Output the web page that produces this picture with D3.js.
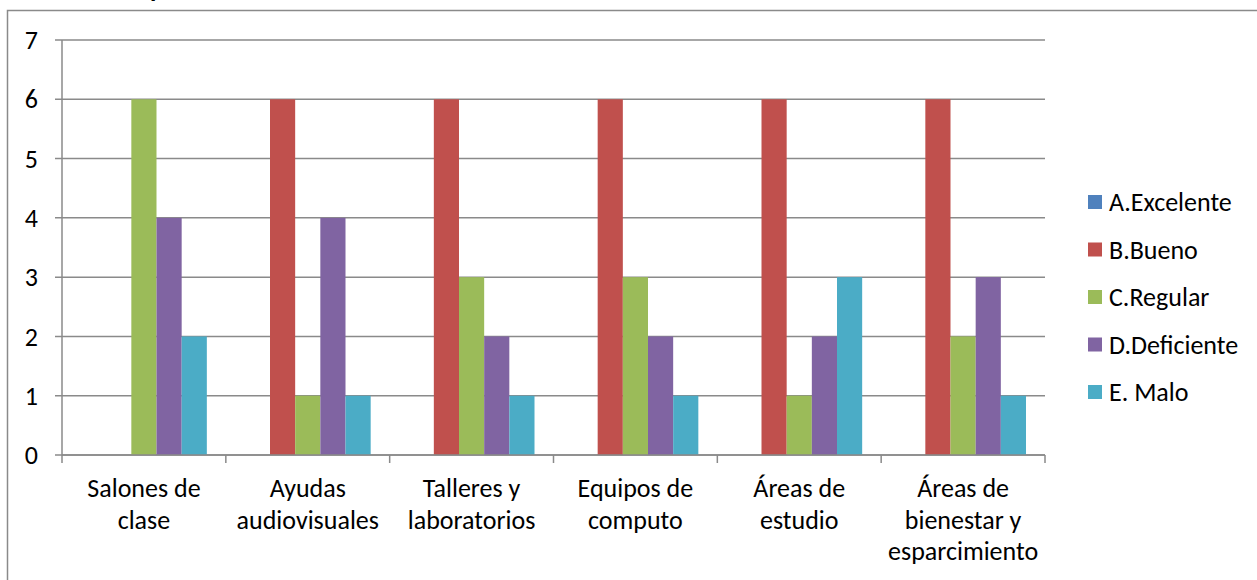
<!DOCTYPE html>
<html><head><meta charset="utf-8">
<script src="https://cdn.jsdelivr.net/npm/d3@7"></script>
<style>body{margin:0;background:#fff;overflow:hidden}text{font-family:Carlito,Lato,sans-serif;fill:#000}</style>
</head><body>
<svg id="c" width="1257" height="580"></svg>
<script>
const categories = [["Salones de","clase"],["Ayudas","audiovisuales"],["Talleres y","laboratorios"],["Equipos de","computo"],["Áreas de","estudio"],["Áreas de","bienestar y","esparcimiento"]];
const seriesNames = ["A.Excelente","B.Bueno","C.Regular","D.Deficiente","E. Malo"];
const seriesColors = ["#4F81BD","#C0504D","#9BBB59","#8064A2","#4BACC6"];
const valuesA = [0,0,0,0,0,0];
const valuesB = [0,6,6,6,6,6];
const valuesC = [6,1,3,3,1,2];
const valuesD = [4,4,2,2,2,3];
const valuesE = [2,1,1,1,3,1];
const yTicks = [0,1,2,3,4,5,6,7];
const seriesValues = [valuesA,valuesB,valuesC,valuesD,valuesE];

const svg = d3.select("#c");
const pLeft = 62, pRight = 1045, pTop = 40, pBottom = 455;
const fs = 26;

// partial title (cut off at top)
svg.append("text").attr("x",150).attr("y",-3).attr("font-weight","bold").attr("font-size",26).text("p");

// outer border
svg.append("rect").attr("x",7.5).attr("y",10.5).attr("width",1300).attr("height",620)
  .attr("fill","none").attr("stroke","#8a8a8a").attr("stroke-width",1.5);

const x0 = d3.scaleBand().domain(d3.range(categories.length)).range([pLeft,pRight]).padding(0);
const gap = 19;
const x1 = d3.scaleBand().domain(d3.range(seriesNames.length)).range([gap, x0.bandwidth()-gap]).padding(0);
const y = d3.scaleLinear().domain([0,7]).range([pBottom,pTop]);

// gridlines
svg.append("g").selectAll("line").data(yTicks).join("line")
  .attr("x1",pLeft-7).attr("x2",pRight).attr("y1",d=>y(d)).attr("y2",d=>y(d))
  .attr("stroke","#8a8a8a").attr("stroke-width",1.5);

// y labels
svg.append("g").selectAll("text").data(yTicks).join("text")
  .attr("x",38).attr("y",d=>y(d)).attr("dy","0.35em").attr("text-anchor","end")
  .attr("font-size",fs).text(d=>d);

// bars
const bars = [];
seriesValues.forEach((vals,s)=>vals.forEach((v,c)=>bars.push({s,c,v})));
svg.append("g").selectAll("rect").data(bars.filter(d=>d.v>0)).join("rect")
  .attr("x",d=>x0(d.c)+x1(d.s)).attr("width",x1.bandwidth())
  .attr("y",d=>y(d.v)).attr("height",d=>y(0)-y(d.v))
  .attr("fill",d=>seriesColors[d.s]);

// y axis line
svg.append("line").attr("x1",pLeft).attr("x2",pLeft).attr("y1",pTop).attr("y2",pBottom)
  .attr("stroke","#8a8a8a").attr("stroke-width",1.5);
// x axis line
svg.append("line").attr("x1",pLeft).attr("x2",pRight).attr("y1",pBottom).attr("y2",pBottom)
  .attr("stroke","#8a8a8a").attr("stroke-width",1.5);
// x ticks at boundaries
const bounds = d3.range(categories.length+1).map(i=> i<categories.length ? x0(i) : pRight);
svg.append("g").selectAll("line").data(bounds).join("line")
  .attr("x1",d=>d).attr("x2",d=>d).attr("y1",pBottom).attr("y2",pBottom+8)
  .attr("stroke","#8a8a8a").attr("stroke-width",1.5);

// x labels
const xl = svg.append("g").selectAll("text").data(categories).join("text")
  .attr("text-anchor","middle").attr("font-size",fs)
  .attr("transform",(d,i)=>`translate(${x0(i)+x0.bandwidth()/2},497)`);
xl.selectAll("tspan").data(d=>d).join("tspan").attr("x",0).attr("y",(d,i)=>i*31.5).text(d=>d);

// legend
const lg = svg.append("g").selectAll("g").data(seriesNames).join("g")
  .attr("transform",(d,i)=>`translate(1088,${202+i*47.5})`);
lg.append("rect").attr("x",0).attr("y",-7).attr("width",14).attr("height",14).attr("fill",(d,i)=>seriesColors[i]);
lg.append("text").attr("x",21).attr("y",0).attr("dy","0.35em").attr("font-size",fs).text(d=>d);
</script>
</body></html>
